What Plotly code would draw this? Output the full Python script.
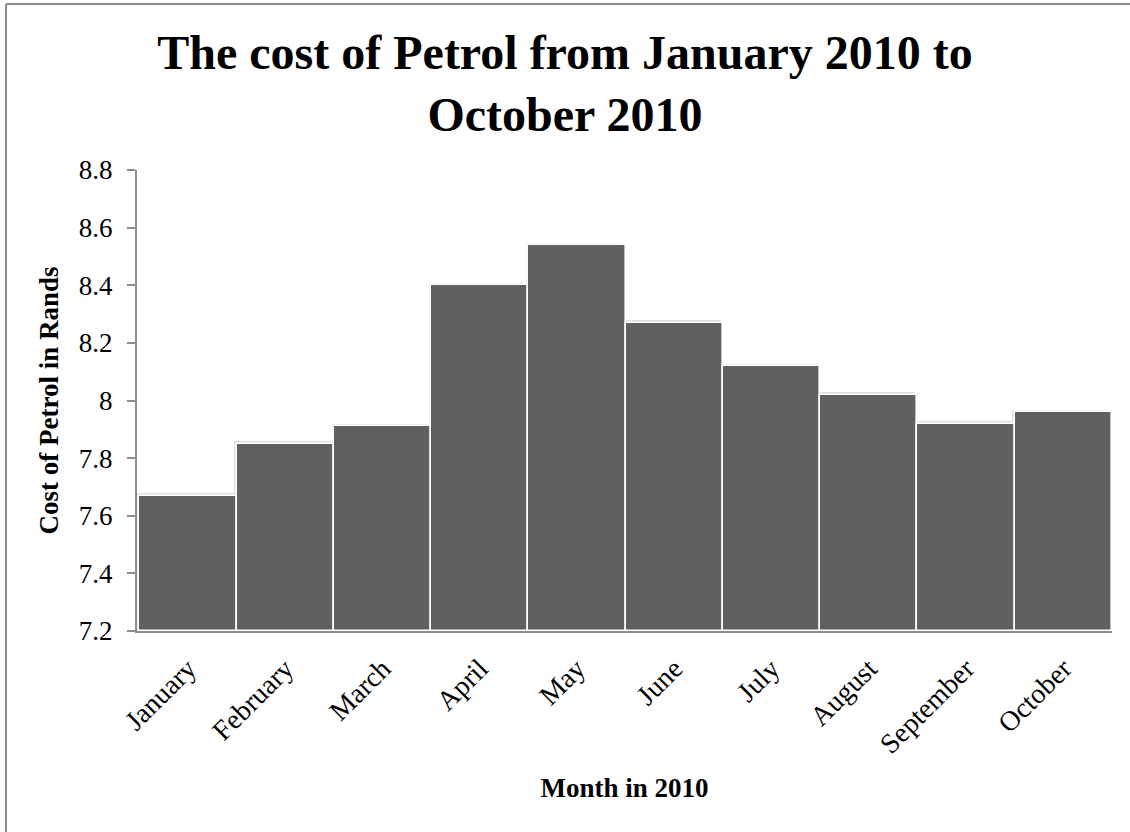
import plotly.graph_objects as go

months = ["January", "February", "March", "April", "May", "June",
          "July", "August", "September", "October"]
cost = [7.67, 7.85, 7.91, 8.40, 8.54, 8.27, 8.12, 8.02, 7.92, 7.96]

y_ticks = [7.2, 7.4, 7.6, 7.8, 8.0, 8.2, 8.4, 8.6, 8.8]
y_tick_text = ["7.2", "7.4", "7.6", "7.8", "8", "8.2", "8.4", "8.6", "8.8"]

SERIF = "Liberation Serif, Times New Roman, serif"
BASE = 7.2

fig = go.Figure()
# soft shadow behind bars
fig.add_trace(go.Bar(
    x=months, y=[c - BASE + 0.008 for c in cost], base=BASE,
    width=1.0, offset=-0.525,
    marker=dict(color="#dedede", line=dict(width=0)),
    hoverinfo="skip",
))
fig.add_trace(go.Bar(
    x=months, y=[c - BASE for c in cost], base=BASE,
    width=1.0, offset=-0.5,
    marker=dict(color="#606060", line=dict(width=1.6, color="white")),
    hoverinfo="skip",
))

fig.update_layout(
    width=1130, height=832,
    paper_bgcolor="white", plot_bgcolor="white",
    margin=dict(l=137, r=18, t=170, b=201),
    barmode="overlay", bargap=0,
    showlegend=False,
    title=dict(
        text="<b>The cost of Petrol from January 2010 to<br>October 2010</b>",
        x=0.5, xanchor="center", yref="container", y=0.917, yanchor="top",
        font=dict(family=SERIF, size=48, color="black"),
    ),
    font=dict(family=SERIF, color="black"),
)

fig.update_xaxes(
    showline=True, linecolor="#8c8c8c", linewidth=2,
    ticks="", tickangle=-45, ticklabelstandoff=8,
    tickfont=dict(family=SERIF, size=28, color="black"),
    title=dict(text="<b>Month in 2010</b>", font=dict(family=SERIF, size=27), standoff=20),
    showgrid=False,
)
fig.update_yaxes(
    range=[BASE, 8.8], tickvals=y_ticks, ticktext=y_tick_text,
    showline=True, linecolor="#8c8c8c", linewidth=2,
    ticks="outside", ticklen=8, tickcolor="#8c8c8c", tickwidth=2,
    ticklabelstandoff=9,
    tickfont=dict(family=SERIF, size=27, color="black"),
    title=dict(text="<b>Cost of Petrol in Rands</b>", font=dict(family=SERIF, size=27), standoff=12),
    showgrid=False, zeroline=False,
)

# outer frame (left and top edges visible)
fig.add_shape(type="line", xref="paper", yref="paper",
              x0=(6 - 137) / 975, x1=(1130 - 137) / 975,
              y0=(631 - 4) / 461, y1=(631 - 4) / 461,
              line=dict(color="#8c8c8c", width=2))
fig.add_shape(type="line", xref="paper", yref="paper",
              x0=(6 - 137) / 975, x1=(6 - 137) / 975,
              y0=(631 - 4) / 461, y1=(631 - 832) / 461,
              line=dict(color="#8c8c8c", width=2))

fig.write_html("out.html", config={"displayModeBar": False},
               post_script="document.body.style.margin='0';")
